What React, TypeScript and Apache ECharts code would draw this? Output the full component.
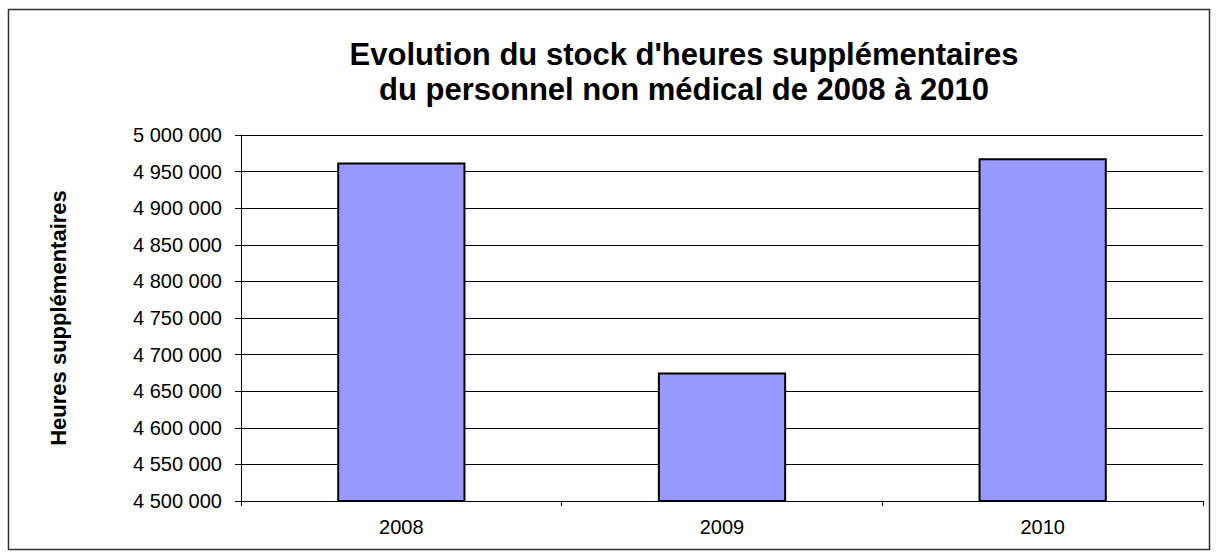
import React, { useEffect, useRef } from "react";
import * as echarts from "echarts";

const categories = ["2008", "2009", "2010"];
const values = [4962300, 4675400, 4968200];
const titleLines = ["Evolution du stock d'heures supplémentaires", "du personnel non médical de 2008 à 2010"];
const yAxisName = "Heures supplémentaires";

const fmt = (v: number) => String(v).replace(/\B(?=(\d{3})+(?!\d))/g, " ");

export default function App() {
  const ref = useRef<HTMLDivElement>(null);
  useEffect(() => {
    if (!ref.current) return;
    const chart = echarts.init(ref.current, null, { renderer: "svg" });
    chart.setOption({
      animation: false,
      backgroundColor: "#ffffff",
      textStyle: { fontFamily: "Arial, 'Liberation Sans', sans-serif" },
      title: {
        text: titleLines.join("\n"),
        left: 679,
        top: 32,
        textAlign: "center",
        textStyle: { fontSize: 31, fontWeight: "bold", color: "#000", lineHeight: 35, fontFamily: "Arial, 'Liberation Sans', sans-serif" },
      },
      graphic: [
        {
          type: "rect",
          shape: { x: 8.5, y: 9.5, width: 1201, height: 540 },
          style: { fill: "none", stroke: "#333", lineWidth: 1.5 },
          silent: true,
        },
      ],
      grid: { left: 241, right: 15, top: 135, bottom: 57, containLabel: false },
      xAxis: {
        type: "category",
        data: categories,
        axisLine: { show: true, lineStyle: { color: "#000", width: 1 } },
        axisTick: { show: true, alignWithLabel: false, length: 5, lineStyle: { color: "#000" } },
        axisLabel: { color: "#000", fontSize: 20, margin: 16 },
        splitLine: { show: false },
      },
      yAxis: {
        type: "value",
        min: 4500000,
        max: 5000000,
        interval: 50000,
        name: yAxisName,
        nameLocation: "middle",
        nameGap: 172,
        nameTextStyle: { fontSize: 22, fontWeight: "bold", color: "#000" },
        axisLine: { show: true, lineStyle: { color: "#000", width: 1 } },
        axisTick: { show: true, length: 6, lineStyle: { color: "#000" } },
        axisLabel: { color: "#000", fontSize: 20, margin: 19, formatter: fmt },
        splitLine: { show: true, lineStyle: { color: "#000", width: 1 } },
      },
      series: [
        {
          type: "bar",
          data: values,
          barWidth: "40%",
          itemStyle: { color: "#9999FF", borderColor: "#000", borderWidth: 2 },
        },
      ],
    });
    return () => chart.dispose();
  }, []);
  return <div ref={ref} style={{ position: "absolute", left: 0, top: 0, width: 1218, height: 558 }} />;
}
